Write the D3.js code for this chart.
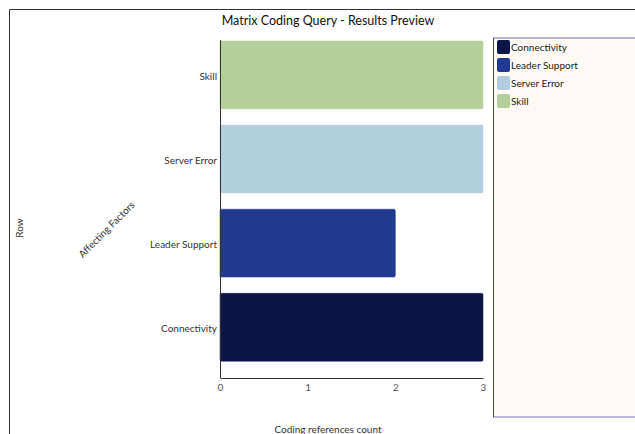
<!DOCTYPE html>
<html><head><meta charset="utf-8">
<script src="https://cdn.jsdelivr.net/npm/d3@7"></script>
<style>body{margin:0;background:#fff;}svg{display:block;font-family:Lato,"Open Sans",sans-serif;}</style>
</head><body><svg id="c" width="635" height="434"></svg>
<script>
const categories = ["Skill", "Server Error", "Leader Support", "Connectivity"];
const values = [3, 3, 2, 3];
const colors = ["#b5cf9a", "#b3cfdf", "#213a91", "#0b1547"];
const legendItems = ["Connectivity", "Leader Support", "Server Error", "Skill"];
const legendColors = ["#0b1547", "#213a91", "#b3cfdf", "#b5cf9a"];
const xTicks = [0, 1, 2, 3];

const svg = d3.select("#c");
// frame
svg.append("path").attr("d", "M9.5,434 V9.5 H635").attr("fill", "none").attr("stroke", "#333").attr("stroke-width", 1);

svg.append("text").attr("x", 328).attr("y", 25).attr("text-anchor", "middle")
  .attr("font-size", 12.5).attr("fill", "#111").text("Matrix Coding Query - Results Preview");

const x = d3.scaleLinear().domain([0, 3]).range([220, 483]);
const y = d3.scaleBand().domain(categories).range([41, 378]).paddingInner(0.194).paddingOuter(0.1).align(0);

svg.selectAll("rect.bar").data(categories).enter().append("rect")
  .attr("x", x(0)).attr("y", d => y(d)).attr("width", (d, i) => x(values[i]) - x(0))
  .attr("height", y.bandwidth()).attr("rx", 1.5)
  .attr("fill", (d, i) => colors[i]).attr("stroke", (d, i) => colors[i]).attr("stroke-opacity", 0.5);

const yAxis = svg.append("g").attr("transform", "translate(220,0)")
  .call(d3.axisLeft(y).tickSize(0).tickPadding(3));
yAxis.select(".domain").attr("stroke", "#333").attr("d", "M0.5,40V378");
yAxis.selectAll("text").attr("font-size", 10).attr("fill", "#333").attr("font-family", "Lato").attr("dy", "0.5em");

const xAxis = svg.append("g").attr("transform", "translate(0,378)")
  .call(d3.axisBottom(x).tickValues(xTicks).tickSize(0).tickPadding(6).tickFormat(d3.format("d")));
xAxis.select(".domain").attr("stroke", "#333");
xAxis.selectAll("text").attr("font-size", 10).attr("fill", "#555").attr("font-family", "Lato");

svg.append("text").attr("transform", "translate(23,228) rotate(-90)").attr("text-anchor", "middle")
  .attr("font-size", 10).attr("fill", "#333").text("Row");
svg.append("text").attr("transform", "translate(109,232) rotate(-45)").attr("text-anchor", "middle")
  .attr("font-size", 10).attr("fill", "#333").text("Affecting Factors");
svg.append("text").attr("x", 328).attr("y", 433).attr("text-anchor", "middle")
  .attr("font-size", 10).attr("fill", "#333").text("Coding references count");

// legend
const lg = svg.append("g");
lg.append("rect").attr("x", 493).attr("y", 37.5).attr("width", 150).attr("height", 380).attr("fill", "#fffaf3");
lg.append("line").attr("x1", 493).attr("x2", 635).attr("y1", 38).attr("y2", 38).attr("stroke", "#a0a0d0").attr("stroke-width", 1.5);
lg.append("line").attr("x1", 493).attr("x2", 635).attr("y1", 417).attr("y2", 417).attr("stroke", "#a0a0d0").attr("stroke-width", 1.5);
lg.append("line").attr("x1", 493.5).attr("x2", 493.5).attr("y1", 38).attr("y2", 417).attr("stroke", "#40409a").attr("stroke-width", 1);
legendItems.forEach((name, i) => {
  lg.append("rect").attr("x", 497).attr("y", 40 + i * 18).attr("width", 13).attr("height", 14).attr("rx", 2).attr("fill", legendColors[i]);
  lg.append("text").attr("x", 511).attr("y", 51 + i * 18).attr("font-size", 10).attr("fill", "#222").text(name);
});
</script></body></html>
